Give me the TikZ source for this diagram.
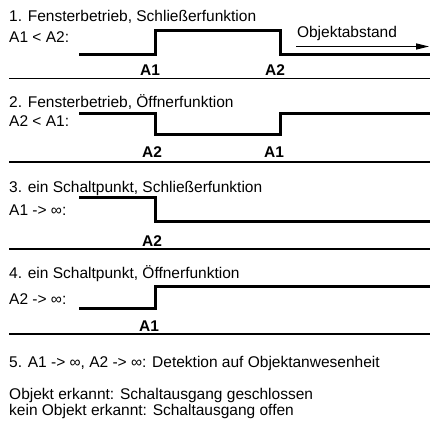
\documentclass[tikz,border=0pt]{standalone}
\usepackage{fontspec}
\setmainfont{Liberation Sans}
\usetikzlibrary{arrows.meta}

\tikzset{
  txt/.style = {anchor=base west, inner sep=0pt, font=\fontsize{15.5}{18}\selectfont},
  lbl/.style = {anchor=base, inner sep=0pt, font=\fontsize{15.5}{18}\selectfont\bfseries},
  signal/.style = {line width=3pt, line join=miter},
  sep/.style = {line width=1.5pt}
}

\begin{document}
\begin{tikzpicture}[x=1pt, y=-1pt]
      \useasboundingbox (0,0) rectangle (430,427);
      % 1. Fensterbetrieb, Schliesserfunktion
      \node[txt] (t1) at (9,22) {1. Fensterbetrieb, Schließerfunktion};
      \node[txt] (c1) at (9,43) {A1 < A2:};
      \draw[signal] (79,54.5) -- (155,54.5) -- (155,30.5) -- (280,30.5) -- (280,54.5) -- (430,54.5);
      \node[txt, anchor=base] (obj) at (347,38) {Objektabstand};
      \coordinate (arrA) at (296,46.5);
      \coordinate (arrB) at (429,46.5);
      \draw[line width=1.3pt, -{Triangle[length=13pt, width=6pt]}] (arrA) -- (arrB);
      \node[lbl] (a11) at (150,76) {A1};
      \node[lbl] (a21) at (275,76) {A2};
      \draw[sep] (9,78.5) -- (430,78.5);
      % 2. Fensterbetrieb, Oeffnerfunktion
      \node[txt] (t2) at (9,108) {2. Fensterbetrieb, Öffnerfunktion};
      \node[txt] (c2) at (9,127) {A2 < A1:};
      \draw[signal] (79,114) -- (155,114) -- (155,135) -- (280,135) -- (280,114) -- (430,114);
      \node[lbl] (a22) at (152,158) {A2};
      \node[lbl] (a12) at (274,158) {A1};
      \draw[sep] (9,162) -- (430,162);
      % 3. ein Schaltpunkt, Schliesserfunktion
      \node[txt] (t3) at (9,193) {3. ein Schaltpunkt, Schließerfunktion};
      \node[txt] (c3) at (9,215) {A1 -> ∞:};
      \draw[signal] (79,198) -- (155,198) -- (155,222) -- (430,222);
      \node[lbl] (a23) at (152,247) {A2};
      \draw[sep] (9,249) -- (430,249);
      % 4. ein Schaltpunkt, Oeffnerfunktion
      \node[txt] (t4) at (9,278) {4. ein Schaltpunkt, Öffnerfunktion};
      \node[txt] (c4) at (9,304) {A2 -> ∞:};
      \draw[signal] (79,308) -- (155,308) -- (155,286) -- (430,286);
      \node[lbl] (a14) at (149,331) {A1};
      \draw[sep] (9,334) -- (430,334);
      % 5. Detektion
      \node[txt] (t5) at (9,367) {5. A1 -> ∞, A2 -> ∞: Detektion auf Objektanwesenheit};
      \node[txt] (n1) at (9,399) {Objekt erkannt: Schaltausgang geschlossen};
      \node[txt] (n2) at (9,415) {kein Objekt erkannt: Schaltausgang offen};
\end{tikzpicture}
\end{document}
